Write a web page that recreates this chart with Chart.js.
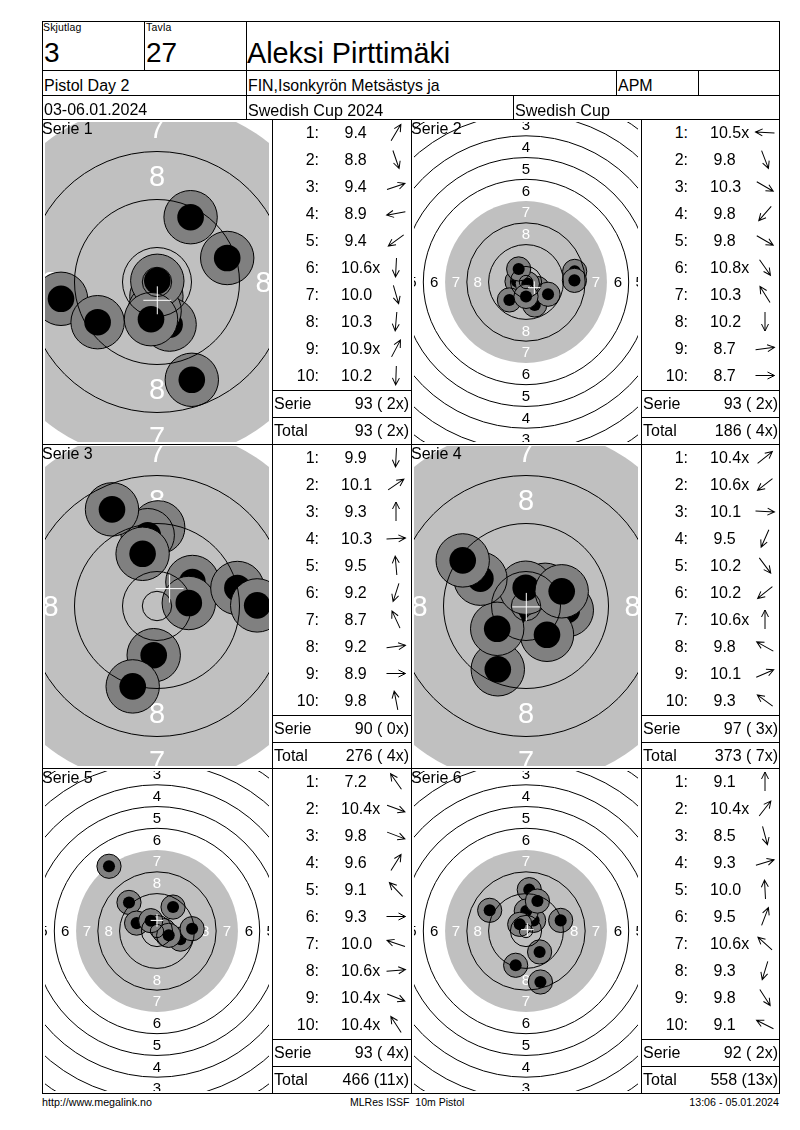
<!DOCTYPE html>
<html>
<head>
<meta charset="utf-8">
<title>Aleksi Pirttimäki</title>
<script src="https://cdn.jsdelivr.net/npm/chart.js@4"></script>
<style>
  html, body { margin: 0; padding: 0; background: #fff; }
  #page { position: relative; width: 800px; height: 1130px; overflow: hidden; font-family: "Liberation Sans", Arial, sans-serif; color: #000; }
  #page canvas { position: absolute; }
  .ln { position: absolute; background: #000; }
  .tx { position: absolute; white-space: pre; }
</style>
</head>
<body>
<div id="page"></div>
<script>
// ring radii in mm, from the inner ten outwards. The edge of the gray disc has no line
const ringRadii = [2.45, 5.75, 13.75, 21.75, 37.75, 45.75, 53.75, 61.75, 69.75];
const blackRadius = 29.75;
const ringLabels = [8, 7, 6, 5, 4, 3];
const ringLabelRadii = [17.75, 25.75, 33.75, 41.75, 49.75, 57.75];

const serieNames = ['Serie 1', 'Serie 2', 'Serie 3', 'Serie 4', 'Serie 5', 'Serie 6'];
const serieScale = [6, 2.72, 6, 6, 2.72, 2.72]; // px per mm of each target

const serie1Scores = ['9.4', '8.8', '9.4', '8.9', '9.4', '10.6x', '10.0', '10.3', '10.9x', '10.2'];
const serie2Scores = ['10.5x', '9.8', '10.3', '9.8', '9.8', '10.8x', '10.3', '10.2', '8.7', '8.7'];
const serie3Scores = ['9.9', '10.1', '9.3', '10.3', '9.5', '9.2', '8.7', '9.2', '8.9', '9.8'];
const serie4Scores = ['10.4x', '10.6x', '10.1', '9.5', '10.2', '10.2', '10.6x', '9.8', '10.1', '9.3'];
const serie5Scores = ['7.2', '10.4x', '9.8', '9.6', '9.1', '9.3', '10.0', '10.6x', '10.4x', '10.4x'];
const serie6Scores = ['9.1', '10.4x', '8.5', '9.3', '10.0', '9.5', '10.6x', '9.3', '9.8', '9.1'];
const allScores = [serie1Scores, serie2Scores, serie3Scores, serie4Scores, serie5Scores, serie6Scores];

// arrow direction of each shot, degrees counter clockwise from right
const serie1Arrows = [59, -71, 19, 190, 216, 267, -74, 265, 62, 268];
const serie2Arrows = [177, -69, -30, 229, -30, -55, 122, 270, 7, 0];
const serie3Arrows = [267, 34, 90, 3, 95, 252, 115, 7, 0, 101];
const serie4Arrows = [39, 218, -3, 246, -53, 219, 90, 151, 23, 144];
const serie5Arrows = [125, -20, -21, 58, 134, 0, 161, 5, -22, 123];
const serie6Arrows = [90, 52, -75, 17, 93, 69, 138, 253, -57, 153];
const allArrows = [serie1Arrows, serie2Arrows, serie3Arrows, serie4Arrows, serie5Arrows, serie6Arrows];

// shot positions in mm from the target centre, in shooting order
const serie1X = [5.6, 5.8, 11.7, -16.0, -9.9, -0.1, 2.1, -0.4, 0.05, -1.0];
const serie1Y = [10.8, -16.3, 4.0, -2.8, -6.7, -2.4, -7.1, -4.8, 0.2, -6.2];
const serie2X = [-3.3, 3.2, 4.2, -6.1, 8.1, 0.5, -2.7, 0, 17.9, 17.8];
const serie2Y = [0.2, -8.45, -2.4, -6.6, -4.5, -0.6, 4.8, -5.3, 3.9, 0.6];
const serie3X = [-0.55, 5.9, 0.2, 5.3, -1.55, -4.05, -7.5, 13.4, 16.7, -2.4];
const serie3Y = [-8.2, 4.0, 13.1, 0.5, 11.8, -13.4, 16.1, 3.0, 0.1, 8.7];
const serie4X = [3.2, -1.9, 6.8, -4.7, 3.5, -4.8, -0.05, -7.6, 5.95, -10.55];
const serie4Y = [2.7, -1.5, -0.7, -10.55, -4.8, -3.8, 3.05, 4.55, 2.45, 7.6];
const serie5X = [-17.65, 3.8, 8.6, 5.9, -10.3, 12.9, -7.5, 2.4, 4.3, -2.3];
const serie5Y = [23.8, -1.4, -3.0, 8.8, 10.5, 0.85, 2.9, 0.2, -1.6, 3.8];
const serie6X = [1.2, 2.8, 5.3, 12.75, 0.1, 4.2, -2.3, -3.8, 5.0, -13.35];
const serie6Y = [15.2, 3.9, -18.75, 3.9, 7.35, 11.0, 2.45, -12.6, -7.7, 7.6];
const allX = [serie1X, serie2X, serie3X, serie4X, serie5X, serie6X];
const allY = [serie1Y, serie2Y, serie3Y, serie4Y, serie5Y, serie6Y];

// white cross, middle of the group
const groupX = [0.05, 3.06, 2.1, 0.05, 0, 0.5];
const groupY = [-3.05, -2.08, 2.9, -0.15, 3.9, 0.5];

const serieTotals = ['93 ( 2x)', '93 ( 2x)', '90 ( 0x)', '97 ( 3x)', '93 ( 4x)', '92 ( 2x)'];
const runningTotals = ['93 ( 2x)', '186 ( 4x)', '276 ( 4x)', '373 ( 7x)', '466 (11x)', '558 (13x)'];

const page = document.getElementById('page');

function line(x, y, w, h) {
    let d = document.createElement('div');
    d.className = 'ln';
    d.style.cssText = 'left:' + x + 'px;top:' + y + 'px;width:' + w + 'px;height:' + h + 'px';
    page.appendChild(d);
}

// y is the vertical middle of the text
function text(str, x, y, size, align, spacing) {
    let d = document.createElement('div');
    d.className = 'tx';
    d.textContent = str;
    let h = Math.round(size * 1.4);
    let css = 'top:' + (y - h / 2) + 'px;line-height:' + h + 'px;font-size:' + size + 'px;';
    if (align === 'right') css += 'right:' + (800 - x) + 'px;';
    else css += 'left:' + x + 'px;';
    if (spacing) css += 'letter-spacing:' + spacing + 'px;';
    d.style.cssText = css;
    page.appendChild(d);
}

function newCanvas(x, y, w, h) {
    let c = document.createElement('canvas');
    c.width = w;
    c.height = h;
    c.style.cssText = 'left:' + x + 'px;top:' + y + 'px;width:' + w + 'px;height:' + h + 'px';
    page.appendChild(c);
    return c;
}

const baseOptions = {
    responsive: false,
    animation: false,
    devicePixelRatio: 1,
    events: [],
    layout: { padding: 0, autoPadding: false },
    plugins: { legend: { display: false }, tooltip: { enabled: false } }
};

// ring numbers go on the gray disc, under the shots
const ringNumbers = {
    id: 'ringNumbers',
    afterDatasetDraw(chart, args) {
        let ds = chart.data.datasets[args.index];
        if (!ds.isBlack) return;
        let ctx = chart.ctx, sx = chart.scales.x, sy = chart.scales.y;
        let size = ds.labelSize;
        ctx.save();
        ctx.font = size + 'px "Liberation Sans"';
        ctx.textAlign = 'center';
        ctx.textBaseline = 'alphabetic';
        ringLabels.forEach((lab, i) => {
            let r = ringLabelRadii[i];
            ctx.fillStyle = lab >= 7 ? '#fff' : '#000';
            [[0, r], [0, -r], [r, 0], [-r, 0]].forEach(p => {
                ctx.fillText(String(lab), sx.getPixelForValue(p[0]), sy.getPixelForValue(p[1]) + size * 0.358);
            });
        });
        ctx.restore();
    }
};

// open headed arrows on the points of the dataset
const arrowHeads = {
    id: 'arrowHeads',
    afterDatasetsDraw(chart) {
        let ctx = chart.ctx;
        let angles = chart.data.datasets[0].angles;
        chart.getDatasetMeta(0).data.forEach((pt, i) => {
            ctx.save();
            ctx.translate(pt.x, pt.y);
            ctx.rotate(-angles[i] * Math.PI / 180);
            ctx.strokeStyle = '#000';
            ctx.lineWidth = 1;
            ctx.beginPath();
            ctx.moveTo(-9.5, 0);
            ctx.lineTo(9.5, 0);
            ctx.moveTo(2.5, -3.5);
            ctx.lineTo(9.5, 0);
            ctx.lineTo(2.5, 3.5);
            ctx.stroke();
            ctx.restore();
        });
    }
};

function drawTarget(n, left, top) {
    let scale = serieScale[n];
    let mm = (chart, v) => chart.chart.scales.x.getPixelForValue(v) - chart.chart.scales.x.getPixelForValue(0);
    let sets = [];
    sets.push({
        data: [{ x: 0, y: 0 }], clip: 0, isBlack: true, labelSize: scale > 3 ? 29 : 15,
        pointRadius: c => mm(c, blackRadius), pointBackgroundColor: '#c0c0c0', pointBorderWidth: 0
    });
    allX[n].forEach((x, i) => {
        let p = [{ x: x, y: allY[n][i] }];
        sets.push({
            data: p, clip: 0, pointRadius: c => mm(c, 4.45),
            pointBackgroundColor: '#808080', pointBorderColor: '#000', pointBorderWidth: 1
        });
        sets.push({
            data: p, clip: 0, pointRadius: c => mm(c, 2.22),
            pointBackgroundColor: '#000', pointBorderWidth: 0
        });
    });
    sets.push({
        data: ringRadii.map(() => ({ x: 0, y: 0 })), clip: 0,
        pointRadius: c => mm(c, ringRadii[c.dataIndex]),
        pointBackgroundColor: 'rgba(0,0,0,0)', pointBorderColor: '#000', pointBorderWidth: 1
    });
    sets.push({
        data: [{ x: groupX[n], y: groupY[n] }], clip: 0, pointStyle: 'cross',
        pointRadius: c => mm(c, 2.33), pointBorderColor: '#fff', pointBorderWidth: 1
    });
    // the library paints the first dataset last
    sets.reverse();

    new Chart(newCanvas(left, top, 224, 320), {
        type: 'scatter',
        data: { datasets: sets },
        plugins: [ringNumbers],
        options: Object.assign({}, baseOptions, {
            scales: {
                x: { display: false, min: -112 / scale, max: 112 / scale },
                y: { display: false, min: -160 / scale, max: 160 / scale }
            }
        })
    });
}

function drawArrows(n, left, top) {
    new Chart(newCanvas(left + 104, top, 40, 270), {
        type: 'scatter',
        data: {
            datasets: [{
                data: allArrows[n].map((a, i) => ({ x: 0, y: i + 1 })),
                angles: allArrows[n],
                clip: false,
                pointRadius: 0
            }]
        },
        plugins: [arrowHeads],
        options: Object.assign({}, baseOptions, {
            scales: {
                x: { display: false, min: -1, max: 1 },
                y: { display: false, min: 0.5, max: 10.5, reverse: true }
            }
        })
    });
}

function drawList(n, left, top) {
    allScores[n].forEach((s, i) => {
        let y = top + 13.5 + i * 27.05;
        text((i + 1) + ':', left + 47, y, 16, 'right');
        text(s, left + (s.startsWith('10') ? 69 : 72.5), y, 16);
    });
    text('Serie', left + 2, top + 285, 16);
    text(serieTotals[n], left + 137, top + 285, 16, 'right');
    text('Total', left + 2, top + 311.5, 16);
    text(runningTotals[n], left + 137, top + 311.5, 16, 'right');
    line(left, top + 271, 139, 1);
    line(left, top + 298, 139, 1);
}

const cols = [45, 414];
const listCols = [272, 641];
const rows = [122, 446, 771];
const listRows = [119, 444, 768];

for (let n = 0; n < 6; n++) {
    let c = n % 2, r = Math.floor(n / 2);
    drawTarget(n, cols[c], rows[r]);
    drawArrows(n, listCols[c], listRows[r]);
}

// frame
line(42, 21, 738, 1);
line(42, 70, 738, 1);
line(42, 95, 738, 1);
line(42, 119, 738, 1);
line(42, 444, 738, 1);
line(42, 768, 738, 1);
line(42, 1093, 738, 1);
line(42, 21, 1, 1073);
line(779, 21, 1, 1073);
line(144, 21, 1, 49);
line(246, 21, 1, 98);
line(616, 70, 1, 25);
line(698, 70, 1, 25);
line(513, 95, 1, 24);
line(272, 119, 1, 974);
line(411, 119, 1, 974);
line(641, 119, 1, 974);

// header
text('Skjutlag', 43, 27, 10.5, 'left', 0.15);
text('Tavla', 146, 27, 10.5, 'left', 0.2);
text('3', 44, 52.5, 28);
text('27', 146, 52.5, 28);
text('Aleksi Pirttimäki', 247, 52.5, 28.8);
text('Pistol Day 2', 44, 86, 16);
text('FIN,Isonkyrön Metsästys ja', 248, 86, 15.9);
text('APM', 618, 86, 16);
text('03-06.01.2024', 44, 110, 16);
text('Swedish Cup 2024', 248, 110, 16.1);
text('Swedish Cup', 515, 110, 16.1);

for (let n = 0; n < 6; n++) {
    let c = n % 2, r = Math.floor(n / 2);
    drawList(n, listCols[c], listRows[r]);
    text(serieNames[n], [42, 411][c], listRows[r] + 9.5, 16);
}

// footer
text('http://www.megalink.no', 42, 1102, 10.7);
text('MLRes ISSF  10m Pistol', 350, 1102, 10.5);
text('13:06 - 05.01.2024', 779, 1102, 10.7, 'right');
</script>
</body>
</html>
